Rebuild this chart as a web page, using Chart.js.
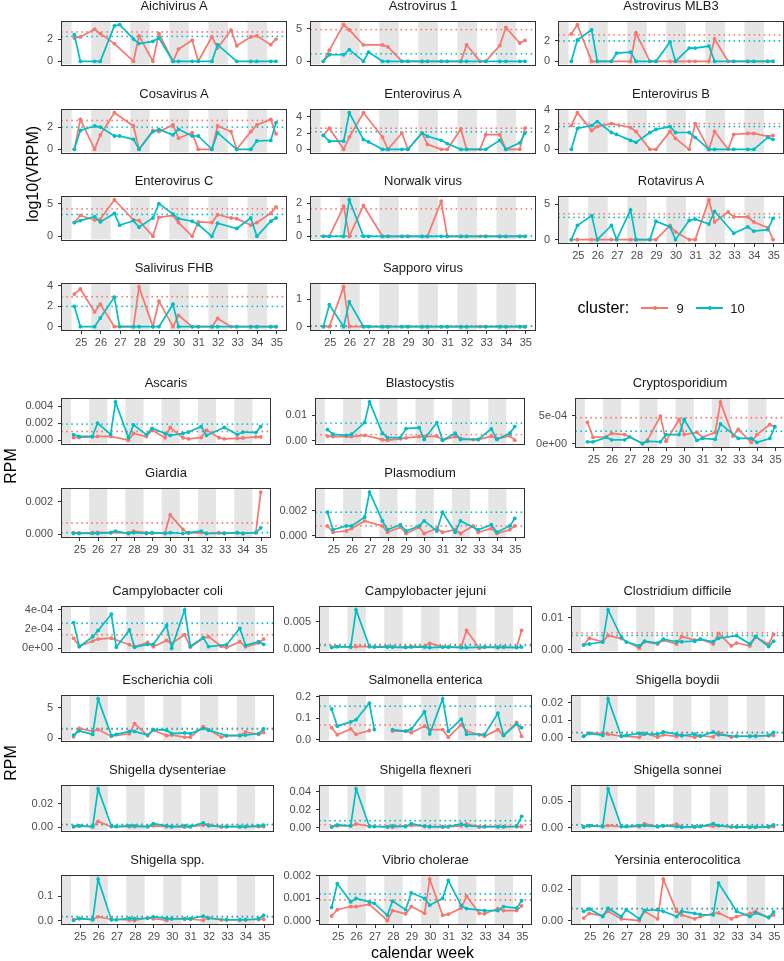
<!DOCTYPE html>
<html>
<head>
<meta charset="utf-8">
<script src="https://cdn.jsdelivr.net/npm/chart.js@4.4.1/dist/chart.umd.min.js"></script>
<style>
  body { margin: 0; background: #fff; }
  #page { position: relative; width: 784px; height: 961px; overflow: hidden; font-family: "Liberation Sans", Arial, sans-serif; }
  .box { position: absolute; }
  .txt { position: absolute; white-space: nowrap; transform: translate(-50%, -50%); line-height: 1; }
</style>
</head>
<body>
<div id="page"></div>
<script>
// sampling times (calendar week, decimal) for each cluster
const weeks9 = [24.64, 24.95, 25.68, 25.97, 26.69, 27.67, 27.95, 28.66, 28.97, 29.69, 29.97, 30.67, 30.98, 31.68, 31.97, 32.66, 32.95, 33.67, 33.98, 34.69, 34.96];
const weeks10 = [24.64, 24.95, 25.68, 25.97, 26.69, 26.96, 27.67, 27.95, 28.66, 28.97, 29.69, 29.97, 30.67, 30.98, 31.68, 31.97, 32.95, 33.67, 33.98, 34.69, 34.96];
const weekTicks = [25, 26, 27, 28, 29, 30, 31, 32, 33, 34, 35];
const shadedWeeks = [24, 26, 28, 30, 32, 34];
const clusters = ['9', '10'];

// viruses, log10(VRPM)
const virusNames = ['Aichivirus A', 'Astrovirus 1', 'Astrovirus MLB3', 'Cosavirus A', 'Enterovirus A', 'Enterovirus B', 'Enterovirus C', 'Norwalk virus', 'Rotavirus A', 'Salivirus FHB', 'Sapporo virus'];
const virus9 = [
  [2.1, 2.2, 2.9, 2.5, 1.6, 0, 2.3, 0, 2.5, 0, 1.1, 1.9, 0, 2.2, 1.2, 2.8, 1.4, 2.2, 2.3, 1.5, 2.0],
  [0, 1.7, 5.6, 4.8, 2.5, 2.5, 2.2, 0, 0, 0, 0, 0, 0, 0, 2.5, 0, 0, 2.4, 5.2, 2.8, 3.2],
  [2.7, 3.6, 0, 0, 0, 0, 2.8, 0, 0, 0, 0, 0, 0, 0, 2.2, 0, 0, 0, 0, 0, 0],
  [0, 2.7, 0, 1.3, 3.3, 2.1, 0, 1.7, 1.6, 2.2, 1.0, 1.5, 0, 0, 2.1, 1.6, 0, 1.6, 2.2, 2.7, 1.4],
  [1.7, 2.6, 0, 1.5, 4.5, 1.5, 0, 2.0, 0, 2.0, 0.6, 0, 0, 2.5, 0, 0, 1.8, 1.8, 0, 0, 2.6],
  [2.4, 3.7, 1.9, 2.3, 2.6, 2.2, 1.8, 0, 0, 1.8, 1.1, 0, 2.6, 0, 1.8, 0, 1.5, 1.6, 1.6, 1.3, 1.4],
  [2.1, 3.2, 2.5, 2.6, 5.6, 2.5, 2.4, 0, 2.9, 3.2, 2.1, 0, 2.2, 2.1, 3.3, 2.8, 2.7, 1.7, 2.1, 3.5, 4.5],
  [0, 0, 1.8, 0, 1.85, 0, 0, 0, 0, 0, 0, 2.1, 0, 0, 0, 0, 0, 0, 0, 0, 0],
  [0, 0, 0, 0, 0, 0, 0, 0, 0, 2.0, 1.1, 0, 0, 5.6, 2.5, 3.9, 3.2, 3.2, 2.5, 1.7, 0],
  [3.2, 3.7, 1.45, 2.2, 0, 0, 3.9, 0, 2.5, 0, 1.1, 0, 0, 0, 0.8, 0, 0, 0, 0, 0, 0],
  [0, 0, 1.45, 0, 0, 0, 0, 0, 0, 0, 0, 0, 0, 0, 0, 0, 0, 0, 0, 0, 0]
];
const virus10 = [
  [2.4, 0, 0, 0, 3.2, 3.3, 2.0, 1.6, 1.8, 2.1, 0, 0, 0, 0, 0, 1.5, 0, 0, 0, 0, 0],
  [0, 1.0, 1.0, 1.8, 0, 1.4, 0, 0, 0, 0, 0, 0, 0, 0, 0, 0, 0, 0, 0, 0, 0],
  [0, 2.1, 3.1, 0, 0, 0.8, 0.9, 0, 0, 0, 1.9, 0, 1.3, 1.3, 1.5, 0, 0, 0, 0, 0, 0],
  [0, 1.7, 2.1, 2.0, 1.2, 1.2, 0.9, 0, 1.6, 1.8, 1.3, 1.8, 1.2, 1.2, 0, 1.5, 0, 0, 0.75, 0.8, 2.4],
  [1.7, 1.0, 1.0, 4.5, 1.2, 0.9, 0, 0, 0, 0, 2.0, 1.6, 1.1, 0.7, 0, 0, 0, 1.1, 0, 0.8, 2.0],
  [0, 2.1, 2.4, 2.8, 1.7, 1.5, 0.9, 0.7, 1.7, 2.0, 2.3, 1.7, 1.7, 1.2, 0, 0, 0, 0, 0, 1.2, 1.0],
  [2.1, 2.4, 3.0, 2.2, 3.5, 1.7, 2.4, 1.4, 2.8, 5.0, 3.4, 2.7, 2.3, 1.8, 0, 2.0, 1.2, 2.8, 0, 2.3, 2.8],
  [0, 0, 0, 2.2, 0, 0, 0, 0, 0, 0, 0, 0, 0, 0, 0, 0, 0, 0, 0, 0, 0],
  [0, 2.0, 3.4, 0, 2.0, 0, 4.2, 0, 0, 2.6, 1.8, 0, 2.7, 2.9, 2.2, 4.0, 0.9, 1.8, 1.2, 1.4, 3.0],
  [2.0, 0, 0, 0.85, 2.9, 0, 0, 0, 0, 0, 2.2, 0, 0, 0, 0, 0, 0, 0, 0, 0, 0],
  [0, 0.8, 0, 0.9, 0, 0, 0, 0, 0, 0, 0, 0, 0, 0, 0, 0, 0, 0, 0, 0, 0]
];
const virusMean9 = [2.65, 4.85, 2.6, 2.6, 2.6, 2.6, 4.2, 1.65, 3.65, 2.95, 0.03];
const virusMean10 = [2.25, 1.15, 2.0, 2.0, 2.15, 2.3, 3.35, 0.02, 3.15, 2.0, 0.02];
const virusTicks = [[0, 2], [0, 5], [0, 2], [0, 2], [0, 2, 4], [0, 2, 4], [0, 5], [0, 1, 2], [0, 5], [0, 2, 4], [0, 1]];

// parasites, RPM
const parasiteNames = ['Ascaris', 'Blastocystis', 'Cryptosporidium', 'Giardia', 'Plasmodium'];
const parasite9 = [
  [0.00033, 0.00033, 0.0004, 0.00045, 0.00045, 0.00002, 0.0008, 0.00045, 0.0012, 0.0003, 0.0015, 0.0003, 0.00017, 0.00033, 0.0012, 0.0003, 0.00017, 0.00023, 0.00027, 0.0004, 0.0004],
  [0.0019, 0.0017, 0.0018, 0.0017, 0.0022, 0.0005, 0.0003, 0.0008, 0.0012, 0.0017, 0.0017, 0.0019, 0.0003, 0.0017, 0.001, 0.0005, 0.0005, 0.0019, 0.0008, 0.002, 0.0003],
  [0.00038, 0.00011, 0.00012, 0.00018, 0.00016, 0, 0.00006, 0.00049, 0.00004, 0.00043, 0.00016, 0.0002, 0.00011, 0.0002, 0.00074, 0.00013, 0.00025, 0.00002, 0.00016, 0.00034, 0.0003],
  [0.0001, 0.00008, 0.0001, 0.00012, 0.0001, 0.00008, 0.0002, 0.0001, 0.00006, 0.0001, 0.0012, 0.0003, 0.00008, 0.0001, 0.00006, 0.0001, 0.00008, 0.0001, 0.00006, 0.0001, 0.0026],
  [0.0008, 0.0003, 0.0004, 0.0006, 0.0012, 0.0008, 0.0003, 0.0007, 0.0002, 0.0007, 0.0002, 0.0006, 0.0003, 0.0005, 0.0002, 0.0008, 0.0003, 0.0006, 0.0002, 0.0005, 0.0008]
];
const parasite10 = [
  [0.00067, 0.00045, 0.00045, 0.002, 0.0007, 0.0045, 0.0003, 0.0018, 0.00067, 0.0014, 0.0008, 0.00057, 0.0008, 0.00097, 0.0016, 0.00057, 0.0015, 0.00067, 0.00097, 0.0009, 0.0016],
  [0.0044, 0.0026, 0.0022, 0.0026, 0.0072, 0.0153, 0.003, 0.0013, 0.0013, 0.0048, 0.0052, 0.0006, 0.0072, 0.0003, 0.003, 0.0006, 0.0006, 0.0047, 0.0006, 0.003, 0.0056],
  [0.00003, 0.00003, 0.00011, 0.000065, 0.000065, 0.00012, 0, 0.00004, 0.00003, 0.00016, 0.00016, 0.00043, 0.000055, 0.00009, 0.000075, 0.00035, 0.00009, 0.00009, 0.00002, 0.00009, 0.0003],
  [0.00005, 0.00005, 0.00006, 0.00005, 0.0001, 0.0002, 0.00005, 0.0001, 0.00005, 0.0001, 0.00005, 0.0001, 0.00005, 0.0001, 0.0002, 0.00005, 0.00005, 0.0001, 0.00005, 0.0001, 0.0004],
  [0.0019, 0.0005, 0.0008, 0.0008, 0.0015, 0.0035, 0.0012, 0.0005, 0.0009, 0.0004, 0.0008, 0.0012, 0.0004, 0.0019, 0.0003, 0.0012, 0.0005, 0.0009, 0.0003, 0.0008, 0.0014]
];
const parasiteMean9 = [0.00103, 0.0025, 0.00046, 0.0007, 0.0008];
const parasiteMean10 = [0.0019, 0.007, 0.00022, 0.0001, 0.0019];
const parasiteTicks = [[0, 0.002, 0.004], [0, 0.01], [0, 0.0005], [0, 0.002], [0, 0.002]];
const parasiteTickLabels = [['0.000', '0.002', '0.004'], ['0.00', '0.01'], ['0e+00', '5e-04'], ['0.000', '0.002'], ['0.000', '0.002']];

// bacteria, RPM
const bacteriaNames = ['Campylobacter coli', 'Campylobacter jejuni', 'Clostridium difficile', 'Escherichia coli', 'Salmonella enterica', 'Shigella boydii', 'Shigella dysenteriae', 'Shigella flexneri', 'Shigella sonnei', 'Shigella spp.', 'Vibrio cholerae', 'Yersinia enterocolitica'];
const bacteria9 = [
  [0.000104, 0.00002, 0.000074, 0.000095, 0.000104, 0.000036, 0.000015, 0.00006, 0.000015, 0.00008, 0.00005, 0.00014, 0.00001, 0.000104, 0.00012, 0.00002, 0.000006, 0.000068, 0.000015, 0.000055, 0.000095],
  [0.0003, 0.0004, 0.0003, 0.0004, 0.0004, 0.0004, 0.0003, 0.0003, 0.0004, 0.0004, 0.001, 0.0003, 0.0003, 0.0003, 0.0034, 0.0001, 0.0003, 0.0003, 0.0003, 0.0002, 0.0034],
  [0.0015, 0.0036, 0.0025, 0.0045, 0.0035, 0.0005, 0.0025, 0.0018, 0.003, 0.0018, 0.0042, 0.003, 0.0033, 0.0018, 0.0051, 0.0012, 0.0021, 0.0012, 0.0039, 0.0018, 0.0048],
  [0.2, 1.6, 1.1, 1.4, 0.3, 0.7, 2.4, 0.4, 1.3, 0.4, 0.5, 0.15, 0.15, 1.9, 1.4, 0.15, 0.4, 0.5, 1.0, 0.6, 0.9],
  [0.056, 0.023, 0.05, 0.025, 0.043, null, 0.04, 0.04, 0.033, 0.063, 0.047, 0.047, 0.012, 0.07, 0.04, 0.023, 0.016, 0.047, 0.02, 0.08, 0.016],
  [0.0008, 0.0025, 0.0025, 0.002, 0.0008, 0.0003, 0.0025, 0.0003, 0.0016, 0.0008, 0.0016, 0.0003, 0.0011, 0.0005, 0.003, 0.0003, 0.0008, 0.0008, 0.0011, 0.0011, 0.0013],
  [0.0005, 0.001, 0.0005, 0.0049, 0.0005, 0.0005, 0.0005, 0.0005, 0.0012, 0.0005, 0.0005, 0.0001, 0.0005, 0.0017, 0.0022, 0.0001, 0.0005, 0.0005, 0.0005, 0.0005, 0.0005],
  [0.001, 0.002, 0.002, 0.004, 0.0015, 0.001, 0.0005, 0.002, 0.0025, 0.0015, 0.001, 0.0005, 0.001, 0.002, 0.004, 0.0005, 0.001, 0.001, 0.0008, 0.001, 0.001],
  [0.002, 0.003, 0.003, 0.004, 0.002, 0.002, 0.0075, 0.002, 0.003, 0.0065, 0.002, 0.001, 0.003, 0.003, 0.004, 0.001, 0.002, 0.001, 0.001, 0.001, 0.002],
  [0.004, 0.008, 0.006, 0.016, 0.006, 0.003, 0.001, 0.012, 0.008, 0.002, 0.008, 0.006, 0.006, 0.002, 0.012, 0.003, 0.004, 0.003, 0.004, 0.005, 0.006],
  [0.00022, 0.0005, 0.00064, 0.00064, 0.00074, 0.00002, 0.00046, 0.00032, 0.00064, 0.00034, 0.00186, 0.00025, 0.0003, 0.00057, 0.0011, 0.00034, 0.00032, 0.00055, 0.00046, 0.00046, 0.00067],
  [0.0017, 0.0047, 0.0031, 0.006, 0.0012, 0.0002, 0.006, 0.0012, 0.0264, 0.006, 0.0037, 0.0012, 0.0027, 0.0045, 0.005, 0.0012, 0.0027, 0.0047, 0.006, 0.0021, 0.0037]
];
const bacteria10 = [
  [0.000267, 0.000015, 0.00012, 0.000185, 0.000355, 0.00001, 0.00019, 0.00001, 0.00004, 0.00004, 0.000237, 0, 0.0004, 0.00002, 0.00011, 0.000015, 0.000036, 0.000207, 0.00003, 0.000068, 0.00004],
  [0.0002, 0.0004, 0.0003, 0.0072, 0.0004, 0.0003, 0.0003, 0.0003, 0.0002, 0.0003, 0.0003, 0.0002, 0.0003, 0.0003, 0.0002, 0.0002, 0.0003, 0.0002, 0.0003, 0.0002, 0.0003],
  [0.0015, 0.0018, 0.0024, 0.0125, 0.0039, 0.0024, 0.0012, 0.0027, 0.0021, 0.0033, 0.0025, 0.0025, 0.0027, 0.0033, 0.0025, 0.0036, 0.0044, 0.0018, 0.0042, 0.001, 0.0027],
  [0.5, 1.2, 0.6, 6.5, 0.4, 0.6, 1.1, 1.1, 0.5, 1.4, 1.3, 0.75, 0.85, 0.75, 1.6, 1.3, 0.4, 0.4, 0.5, 0.75, 1.5],
  [0.143, 0.063, 0.083, 0.093, 0.17, 0.047, null, 0.047, 0.04, 0.05, 0.13, 0.027, 0.19, 0.039, 0.096, 0.025, 0.025, 0.123, 0.02, 0.073, 0.056],
  [0.0008, 0.0025, 0.0013, 0.0222, 0.0008, 0.0013, 0.0025, 0.002, 0.002, 0.0033, 0.002, 0.0011, 0.002, 0.0008, 0.0033, 0.0016, 0.0008, 0.0008, 0.0008, 0.0013, 0.003],
  [0.0005, 0.0012, 0.0005, 0.0327, 0.001, 0.0005, 0.0012, 0.0012, 0.0005, 0.003, 0.0012, 0.0005, 0.0012, 0.0005, 0.0037, 0.0012, 0.0005, 0.0005, 0.0005, 0.0012, 0.0017],
  [0.0006, 0.003, 0.002, 0.043, 0.0012, 0.0012, 0.0008, 0.002, 0.001, 0.0045, 0.0015, 0.001, 0.001, 0.001, 0.004, 0.002, 0.001, 0.001, 0.001, 0.0015, 0.0125],
  [0.001, 0.004, 0.002, 0.073, 0.002, 0.002, 0.004, 0.004, 0.002, 0.004, 0.002, 0.001, 0.002, 0.002, 0.0075, 0.004, 0.001, 0.001, 0.001, 0.002, 0.005],
  [0.002, 0.01, 0.004, 0.17, 0.004, 0.004, 0.01, 0.008, 0.01, 0.016, 0.01, 0.008, 0.008, 0.008, 0.019, 0.01, 0.004, 0.004, 0.004, 0.008, 0.022],
  [0.0006, 0.00166, 0.00085, 0.001, 0.00085, 0.00078, 0.00025, 0.00088, 0.0005, 0.00125, 0.001, 0.0007, 0.001, 0.0018, 0.00068, 0.00055, 0.00046, 0.00046, 0.00064, 0.00057, 0.0009],
  [0.006, 0.0075, 0.0027, 0.008, 0.0027, 0.007, 0.0012, 0.0066, 0.007, 0.006, 0.0027, 0.006, 0.0047, 0.004, 0.0037, 0.0239, 0.006, 0.0027, 0.005, 0.0021, 0.0056]
];
const bacteriaMean9 = [0.00014, 0.0008, 0.0053, 1.45, 0.069, 0.0028, 0.0022, 0.0032, 0.005, 0.015, 0.00093, 0.0076];
const bacteriaMean10 = [0.00026, 0.0006, 0.0045, 1.6, 0.156, 0.003, 0.0025, 0.0077, 0.0055, 0.018, 0.0012, 0.0078];
const bacteriaTicks = [[0, 0.0002, 0.0004], [0, 0.005], [0, 0.01], [0, 5], [0, 0.1, 0.2], [0, 0.01, 0.02], [0, 0.02], [0, 0.02, 0.04], [0, 0.05], [0, 0.1], [0, 0.001, 0.002], [0, 0.02]];
const bacteriaTickLabels = [['0e+00', '2e-04', '4e-04'], ['0.000', '0.005'], ['0.00', '0.01'], ['0', '5'], ['0.0', '0.1', '0.2'], ['0.00', '0.01', '0.02'], ['0.00', '0.02'], ['0.00', '0.02', '0.04'], ['0.00', '0.05'], ['0.0', '0.1'], ['0.000', '0.001', '0.002'], ['0.00', '0.02']];

// look
const RED = '#F8766D';
const TEAL = '#00BFC4';
const X_MIN = 24.01, X_MAX = 35.47;
const Y_W = 60, PAD_T = 8, PAD_B = 8, PAD_R = 8, X_H = 20;

Chart.defaults.font.family = '"Liberation Sans", Arial, sans-serif';
Chart.defaults.color = '#4d4d4d';

const page = document.getElementById('page');

function addText(str, x, y, size, color, rotate) {
  const d = document.createElement('div');
  d.className = 'txt';
  d.textContent = str;
  d.style.left = x + 'px';
  d.style.top = y + 'px';
  d.style.fontSize = size + 'px';
  d.style.color = color;
  if (rotate) d.style.transform = 'translate(-50%, -50%) rotate(-90deg)';
  page.appendChild(d);
  return d;
}

// gray week stripes + panel frame
const panelDecor = {
  id: 'panelDecor',
  beforeDatasetsDraw(chart) {
    const { ctx, chartArea: a } = chart;
    const x = chart.scales.x;
    ctx.save();
    ctx.fillStyle = '#e5e5e5';
    shadedWeeks.forEach(w => {
      const x0 = Math.max(x.getPixelForValue(w - 0.5), a.left);
      const x1 = Math.min(x.getPixelForValue(w + 0.5), a.right);
      if (x1 > x0) ctx.fillRect(x0, a.top, x1 - x0, a.bottom - a.top);
    });
    ctx.restore();
  },
  afterDraw(chart) {
    const { ctx, chartArea: a } = chart;
    ctx.save();
    ctx.strokeStyle = '#333333';
    ctx.lineWidth = 1;
    ctx.strokeRect(Math.round(a.left) - 0.5, Math.round(a.top) - 0.5, Math.round(a.right - a.left) + 1, Math.round(a.bottom - a.top) + 1);
    ctx.restore();
  }
};

function series(xs, ys, color) {
  return {
    data: xs.map((x, k) => ({ x: x, y: ys[k] })),
    borderColor: color,
    backgroundColor: color,
    borderWidth: 1.7,
    pointRadius: 1.9,
    pointBorderWidth: 0,
    pointHoverRadius: 0,
    spanGaps: false,
    tension: 0
  };
}

function meanLine(m, color) {
  return {
    data: [{ x: X_MIN, y: m }, { x: X_MAX, y: m }],
    borderColor: color,
    borderWidth: 1.8,
    borderDash: [0.01, 5],
    borderCapStyle: 'round',
    pointRadius: 0,
    pointHoverRadius: 0
  };
}

function addPanel(sec, i) {
  const col = i % 3, row = Math.floor(i / 3);
  const left = sec.lefts[col], top = sec.tops[row];
  const hasX = sec.bottom.includes(i);

  const box = document.createElement('div');
  box.className = 'box';
  box.style.left = (left - Y_W) + 'px';
  box.style.top = (top - PAD_T) + 'px';
  box.style.width = (Y_W + sec.width + PAD_R) + 'px';
  box.style.height = (PAD_T + sec.height + (hasX ? X_H : PAD_B)) + 'px';
  const cv = document.createElement('canvas');
  box.appendChild(cv);
  page.appendChild(box);

  addText(sec.names[i], left + sec.width / 2, top - 13, 13, '#1a1a1a');

  // y limits: data range (with reference lines) expanded a little
  const all = sec.c9[i].concat(sec.c10[i], [sec.m9[i], sec.m10[i]]).filter(v => v !== null);
  const lo = Math.min(...all), hi = Math.max(...all);
  const pad = (hi - lo) * 0.085;
  const tickVals = sec.ticks[i];
  const tickLabels = sec.labels[i];

  const xScale = {
    type: 'linear', min: X_MIN, max: X_MAX, display: hasX,
    afterBuildTicks: s => { s.ticks = weekTicks.map(v => ({ value: v })); },
    ticks: { font: { size: 11 }, color: '#4d4d4d', padding: 2, maxRotation: 0, autoSkip: false, callback: v => String(v) },
    grid: { drawOnChartArea: false, drawTicks: true, tickLength: 4, color: '#333333', lineWidth: 1 },
    border: { display: false }
  };
  if (hasX) xScale.afterFit = s => { s.height = X_H; };

  new Chart(cv, {
    type: 'line',
    data: {
      datasets: [
        series(weeks10, sec.c10[i], TEAL),
        series(weeks9, sec.c9[i], RED),
        meanLine(sec.m10[i], TEAL),
        meanLine(sec.m9[i], RED)
      ]
    },
    options: {
      responsive: true,
      maintainAspectRatio: false,
      animation: false,
      events: [],
      layout: { padding: { top: PAD_T, right: PAD_R, bottom: hasX ? 0 : PAD_B, left: 0 } },
      plugins: { legend: { display: false }, tooltip: { enabled: false } },
      scales: {
        x: xScale,
        y: {
          type: 'linear', min: lo - pad, max: hi + pad,
          afterBuildTicks: s => { s.ticks = tickVals.map(v => ({ value: v })); },
          afterFit: s => { s.width = Y_W; },
          ticks: { font: { size: 11 }, color: '#4d4d4d', padding: 5, callback: (v, k) => tickLabels[k] },
          grid: { drawOnChartArea: false, drawTicks: true, tickLength: 4, color: '#333333', lineWidth: 1 },
          border: { display: false }
        }
      }
    },
    plugins: [panelDecor]
  });
}

const sections = [
  { names: virusNames, c9: virus9, c10: virus10, m9: virusMean9, m10: virusMean10,
    ticks: virusTicks, labels: virusTicks.map(t => t.map(String)),
    lefts: [62, 311, 559], width: 224, tops: [18, 106, 193, 280], height: 50, bottom: [8, 9, 10] },
  { names: parasiteNames, c9: parasite9, c10: parasite10, m9: parasiteMean9, m10: parasiteMean10,
    ticks: parasiteTicks, labels: parasiteTickLabels,
    lefts: [62, 316, 576], width: 208, tops: [395, 485], height: 52, bottom: [2, 3, 4] },
  { names: bacteriaNames, c9: bacteria9, c10: bacteria10, m9: bacteriaMean9, m10: bacteriaMean10,
    ticks: bacteriaTicks, labels: bacteriaTickLabels,
    lefts: [62, 320, 572], width: 211, tops: [603, 692, 782, 872], height: 52, bottom: [9, 10, 11] }
];

sections.forEach(sec => sec.names.forEach((n, i) => addPanel(sec, i)));

// axis titles
addText('log10(VRPM)', 33, 174, 16, '#000', true);
addText('RPM', 11, 466, 16, '#000', true);
addText('RPM', 11, 763, 16, '#000', true);
addText('calendar week', 422.5, 953, 16, '#000');

// legend
const lg = addText('cluster:', 577.5, 308, 16, '#000');
lg.style.transform = 'translate(0, -50%)';
[[RED, 641, 680], [TEAL, 696, 737.5]].forEach(([c, x, tx], k) => {
  const line = document.createElement('div');
  line.style.cssText = `position:absolute;left:${x}px;top:307.1px;width:27px;height:1.8px;background:${c}`;
  page.appendChild(line);
  const dot = document.createElement('div');
  dot.style.cssText = `position:absolute;left:${x + 11.5}px;top:306px;width:4px;height:4px;border-radius:50%;background:${c}`;
  page.appendChild(dot);
  addText(clusters[k], tx, 308, 13, '#1a1a1a');
});
</script>
</body>
</html>
